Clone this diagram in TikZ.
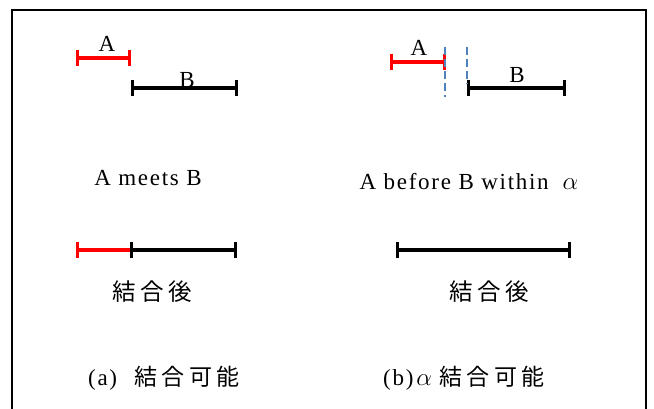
\documentclass[tikz,border=0pt]{standalone}
\usepackage{fontspec}
\setmainfont{Liberation Serif}
\newfontfamily\spacedserif{Liberation Serif}[LetterSpace=7.5]
\newfontfamily\cjkfont{Noto Sans CJK JP}[LetterSpace=20]
\usetikzlibrary{arrows.meta}
\definecolor{cutcol}{RGB}{79,129,189}

\begin{document}
\begin{tikzpicture}[x=1pt,y=-1pt,
  seg/.style={line width=3.4pt,{Bar[width=16pt]}-{Bar[width=16pt]}},
  segopen/.style={line width=3.4pt,{Bar[width=16pt]}-},
  cut/.style={cutcol,line width=2.6pt,dash pattern=on 8pt off 4pt},
  lab/.style={font=\spacedserif\fontsize{23}{26}\selectfont,inner sep=0pt,anchor=base},
  jp/.style={font=\cjkfont\fontsize{23.5}{26}\selectfont,inner sep=0pt},
  capline/.style={font=\spacedserif\fontsize{23}{26}\selectfont,inner sep=0pt,anchor=base west}]
  \useasboundingbox (0,0) rectangle (654,408);
  % frame, open at the bottom
  \coordinate (fbl) at (12,416);
  \coordinate (ftl) at (12,10);
  \coordinate (ftr) at (646,10);
  \coordinate (fbr) at (646,416);
  \draw[line width=2.7pt] (fbl)--(ftl)--(ftr)--(fbr);
  % panel (a): A meets B
  \coordinate (aA1) at (76,58);  \coordinate (aA2) at (131,58);
  \coordinate (aB1) at (131,88); \coordinate (aB2) at (238,88);
  \draw[seg,red] (aA1)--(aA2);
  \draw[seg] (aB1)--(aB2);
  \node[lab] (aAlab) at (107,51) {A};
  \node[lab] (aBlab) at (187,87) {B};
  \node[lab] (ameets) at (148,185) {A meets B};
  % joined interval (a)
  \coordinate (aJ1) at (76,250); \coordinate (aJ2) at (130,250);
  \coordinate (aJ3) at (237,250);
  \draw[segopen,red] (aJ1)--(aJ2);
  \draw[seg] (aJ2)--(aJ3);
  \node[jp] (ajoin) at (152,292) {結合後};
  \node[capline] (acap) at (88,385) {(a)\hspace{17pt}{\cjkfont 結合可能}};
  % panel (b): A before B within alpha
  \coordinate (bA1) at (390,62);  \coordinate (bA2) at (446,62);
  \coordinate (bB1) at (467,88);  \coordinate (bB2) at (566,88);
  \draw[seg,red] (bA1)--(bA2);
  \draw[seg] (bB1)--(bB2);
  \coordinate (bc1t) at (445,47); \coordinate (bc1b) at (445,97);
  \coordinate (bc2t) at (467,47); \coordinate (bc2b) at (467,84);
  \draw[cut] (bc1t)--(bc1b);
  \draw[cut] (bc2t)--(bc2b);
  \node[lab] (bAlab) at (419,55) {A};
  \node[lab] (bBlab) at (517,82) {B};
  \node[lab] (bbefore) at (469,189) {A before B within\hspace{14pt}$\alpha$};
  % joined interval (b)
  \coordinate (bJ1) at (396,250); \coordinate (bJ2) at (571,250);
  \draw[seg] (bJ1)--(bJ2);
  \node[jp] (bjoin) at (489,292) {結合後};
  \node[capline] (bcap) at (383,385) {(b)\hspace{3pt}$\alpha$\hspace{7pt}{\cjkfont 結合可能}};
\end{tikzpicture}
\end{document}
